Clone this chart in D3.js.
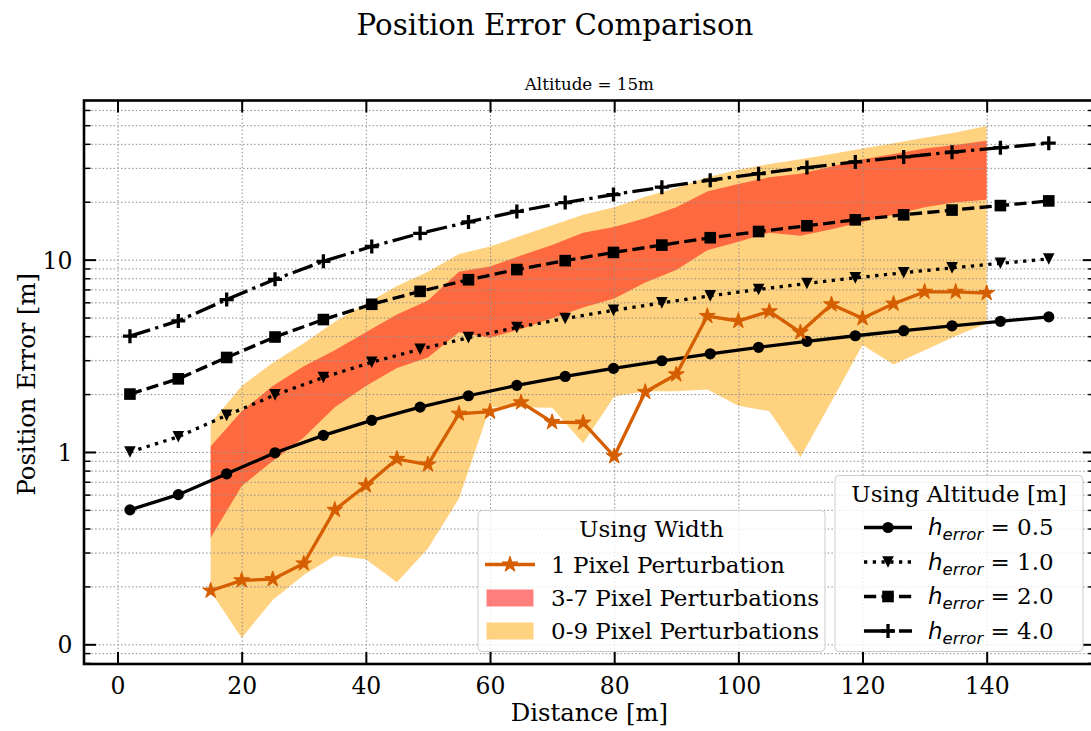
<!DOCTYPE html>
<html>
<head>
<meta charset="utf-8">
<script src="https://cdn.jsdelivr.net/npm/d3@7"></script>
<style>
  body { margin: 0; background: #fff; }
  text { font-family: "DejaVu Serif", serif; fill: #000; }
</style>
</head>
<body>
<svg id="chart" width="1091" height="731"></svg>
<script>
// ---- data ----
var distAlt = [2.0, 9.79, 17.58, 25.37, 33.16, 40.95, 48.74, 56.53, 64.32, 72.11, 79.89, 87.68, 95.47, 103.26, 111.05, 118.84, 126.63, 134.42, 142.21, 150.0];
var hErr05 = [0.5, 0.6, 0.77, 0.99, 1.22, 1.46, 1.71, 1.96, 2.22, 2.47, 2.72, 2.98, 3.24, 3.5, 3.76, 4.02, 4.27, 4.53, 4.78, 5.04];
var hErr10 = [1.0, 1.2, 1.55, 1.98, 2.44, 2.93, 3.42, 3.93, 4.44, 4.94, 5.45, 5.96, 6.48, 7.0, 7.52, 8.04, 8.55, 9.06, 9.57, 10.08];
var hErr20 = [2.0, 2.4, 3.1, 3.96, 4.88, 5.86, 6.84, 7.86, 8.88, 9.88, 10.9, 11.9, 13.0, 14.0, 15.0, 16.1, 17.1, 18.1, 19.1, 20.2];
var hErr40 = [4.0, 4.8, 6.2, 7.9, 9.8, 11.7, 13.7, 15.7, 17.8, 19.8, 21.8, 23.8, 25.9, 28.0, 30.1, 32.2, 34.2, 36.2, 38.2, 40.3];

var distPix = [15, 20, 25, 30, 35, 40, 45, 50, 55, 60, 65, 70, 75, 80, 85, 90, 95, 100, 105, 110, 115, 120, 125, 130, 135, 140];
var onePixel = [0.19, 0.215, 0.218, 0.263, 0.50, 0.67, 0.92, 0.86, 1.58, 1.62, 1.81, 1.43, 1.42, 0.95, 2.05, 2.53, 5.09, 4.80, 5.38, 4.19, 5.85, 4.96, 5.9, 6.8, 6.8, 6.7];
var band37High = [1.07, 1.63, 2.20, 2.79, 3.38, 4.19, 5.18, 6.14, 8.65, 9.22, 10.5, 11.9, 13.8, 14.8, 16.4, 18.7, 22.6, 24.7, 26.8, 28.0, 30.5, 33.3, 35.4, 37.8, 39.5, 41.5];
var band37Low = [0.358, 0.666, 0.898, 1.19, 1.71, 2.20, 2.73, 3.10, 4.19, 3.92, 4.36, 4.96, 5.64, 6.28, 7.61, 8.84, 11.2, 12.4, 13.8, 13.3, 14.4, 15.7, 17.1, 18.7, 19.9, 20.5];
var band09High = [1.41, 2.20, 2.91, 3.68, 4.75, 5.89, 7.29, 8.65, 10.7, 11.7, 13.3, 15.1, 17.1, 18.7, 21.2, 23.6, 26.8, 29.3, 31.4, 33.3, 35.4, 37.8, 40.3, 43.0, 45.8, 49.5];
var band09Low = [0.189, 0.108, 0.170, 0.229, 0.289, 0.277, 0.210, 0.315, 0.573, 1.71, 1.71, 1.70, 1.11, 1.94, 2.07, 2.07, 2.11, 1.74, 1.63, 0.94, 1.83, 3.60, 2.85, 3.38, 4.01, 4.65];

var xTicks = [0, 20, 40, 60, 80, 100, 120, 140];
var yMajor = [0.1, 1, 10];
var yTickLabels = ["0", "1", "10"];
var yMinor = [0.08, 0.09, 0.2, 0.3, 0.4, 0.5, 0.6, 0.7, 0.8, 0.9, 2, 3, 4, 5, 6, 7, 8, 9, 20, 30, 40, 50, 60];

var altLabels = ["0.5", "1.0", "2.0", "4.0"];
var widthLabels = ["1 Pixel Perturbation", "3-7 Pixel Perturbations", "0-9 Pixel Perturbations"];

// ---- layout ----
var plotL = 84, plotR = 1094.7, plotT = 100.5, plotB = 664;
var lw = 3.3;
var starColor = "#d55e00";

var svg = d3.select("#chart");

var x = d3.scaleLinear().domain([-5.4, 157.4]).range([plotL, plotR]);
var y = d3.scaleLog().domain([0.079, 67.2]).range([plotB, plotT]);

// titles
svg.append("text")
  .attr("x", 555).attr("y", 35)
  .attr("text-anchor", "middle")
  .attr("font-size", "29.3px")
  .text("Position Error Comparison");

svg.append("text")
  .attr("x", (plotL + plotR) / 2).attr("y", 90)
  .attr("text-anchor", "middle")
  .attr("font-size", "16.7px")
  .text("Altitude = 15m");

// clip for plot area
svg.append("clipPath").attr("id", "plotClip")
  .append("rect")
  .attr("x", plotL).attr("y", plotT)
  .attr("width", plotR - plotL).attr("height", plotB - plotT);

var plot = svg.append("g").attr("clip-path", "url(#plotClip)");

// bands
var area09 = d3.area()
  .x(function (d, i) { return x(distPix[i]); })
  .y0(function (d, i) { return y(band09Low[i]); })
  .y1(function (d, i) { return y(band09High[i]); });
var area37 = d3.area()
  .x(function (d, i) { return x(distPix[i]); })
  .y0(function (d, i) { return y(band37Low[i]); })
  .y1(function (d, i) { return y(band37High[i]); });

plot.append("path").datum(distPix).attr("d", area09)
  .style("fill", "orange").style("fill-opacity", 0.5);
plot.append("path").datum(distPix).attr("d", area37)
  .style("fill", "red").style("fill-opacity", 0.5);

// grid
var gridStyle = function (g) {
  g.select(".domain").remove();
  g.selectAll("text").remove();
  g.selectAll("line")
    .style("stroke", "#8c8c8c")
    .style("stroke-width", 1)
    .style("stroke-dasharray", "1.5,2.2");
};

plot.append("g")
  .attr("transform", "translate(0," + plotB + ")")
  .call(d3.axisBottom(x).tickValues(xTicks).tickSize(-(plotB - plotT)))
  .call(gridStyle);

plot.append("g")
  .attr("transform", "translate(" + plotL + ",0)")
  .call(d3.axisLeft(y).tickValues(yMajor.concat(yMinor)).tickSize(-(plotR - plotL)))
  .call(gridStyle);

// altitude lines
var altSeries = [
  { values: hErr05, dash: null, marker: "circle" },
  { values: hErr10, dash: [1 * lw, 1.65 * lw], marker: "triangle" },
  { values: hErr20, dash: [3.7 * lw, 1.6 * lw], marker: "square" },
  { values: hErr40, dash: [6.4 * lw, 1.6 * lw, 1 * lw, 1.6 * lw], marker: "plus" }
];

function drawMarker(g, type, cx, cy, color) {
  if (type === "circle") {
    g.append("circle").attr("cx", cx).attr("cy", cy).attr("r", 5.6).style("fill", color);
  } else if (type === "triangle") {
    var s = 5.8;
    g.append("path")
      .attr("d", "M" + (cx - s) + "," + (cy - s) + "L" + (cx + s) + "," + (cy - s) + "L" + cx + "," + (cy + s) + "Z")
      .style("fill", color);
  } else if (type === "square") {
    g.append("rect").attr("x", cx - 5.8).attr("y", cy - 5.8)
      .attr("width", 11.6).attr("height", 11.6).style("fill", color);
  } else if (type === "plus") {
    g.append("path")
      .attr("d", "M" + (cx - 7) + "," + cy + "H" + (cx + 7) + "M" + cx + "," + (cy - 7) + "V" + (cy + 7))
      .style("stroke", color).style("stroke-width", 3.3).style("fill", "none");
  } else if (type === "star") {
    g.append("path")
      .attr("transform", "translate(" + cx + "," + cy + ")")
      .attr("d", d3.symbol(d3.symbolStar, 78)())
      .style("fill", color).style("stroke", color).style("stroke-width", 1);
  }
}

var altLine = d3.line()
  .x(function (d, i) { return x(distAlt[i]); })
  .y(function (d) { return y(d); });

altSeries.forEach(function (s) {
  plot.append("path")
    .datum(s.values)
    .attr("d", altLine)
    .style("fill", "none")
    .style("stroke", "black")
    .style("stroke-width", lw)
    .style("stroke-dasharray", s.dash ? s.dash.join(",") : null);
  s.values.forEach(function (v, i) {
    drawMarker(plot, s.marker, x(distAlt[i]), y(v), "black");
  });
});

// 1 pixel perturbation
var pixLine = d3.line()
  .x(function (d, i) { return x(distPix[i]); })
  .y(function (d) { return y(d); });

plot.append("path")
  .datum(onePixel)
  .attr("d", pixLine)
  .style("fill", "none")
  .style("stroke", starColor)
  .style("stroke-width", lw);
onePixel.forEach(function (v, i) {
  drawMarker(plot, "star", x(distPix[i]), y(v), starColor);
});

// ---- axes (inward ticks) ----
var tickStyle = function (w) {
  return function (g) {
    g.select(".domain").remove();
    g.selectAll("line").style("stroke", "black").style("stroke-width", w);
    g.selectAll("text").style("font-family", "DejaVu Serif").style("font-size", "23.5px");
  };
};

svg.append("g")
  .attr("transform", "translate(0," + plotB + ")")
  .call(d3.axisBottom(x).tickValues(xTicks).tickSize(-12).tickPadding(13).tickFormat(d3.format("d")))
  .call(tickStyle(2));

svg.append("g")
  .attr("transform", "translate(0," + plotT + ")")
  .call(d3.axisTop(x).tickValues(xTicks).tickSize(-12).tickFormat(""))
  .call(tickStyle(2));

svg.append("g")
  .attr("transform", "translate(" + plotL + ",0)")
  .call(d3.axisLeft(y).tickValues(yMajor).tickSize(-12).tickPadding(11.5)
    .tickFormat(function (d, i) { return yTickLabels[i]; }))
  .call(tickStyle(2))
  .selectAll("text").attr("dy", "0.36em");

svg.append("g")
  .attr("transform", "translate(" + plotL + ",0)")
  .call(d3.axisLeft(y).tickValues(yMinor).tickSize(-6.5).tickFormat(""))
  .call(tickStyle(1.5));

svg.append("g")
  .attr("transform", "translate(" + plotR + ",0)")
  .call(d3.axisRight(y).tickValues(yMajor).tickSize(-12).tickFormat(""))
  .call(tickStyle(2));

svg.append("g")
  .attr("transform", "translate(" + plotR + ",0)")
  .call(d3.axisRight(y).tickValues(yMinor).tickSize(-6.5).tickFormat(""))
  .call(tickStyle(1.5));

// frame
svg.append("rect")
  .attr("x", plotL).attr("y", plotT)
  .attr("width", plotR - plotL).attr("height", plotB - plotT)
  .style("fill", "none").style("stroke", "black").style("stroke-width", 2.6);

// axis labels
svg.append("text")
  .attr("x", (plotL + plotR) / 2).attr("y", 721)
  .attr("text-anchor", "middle")
  .attr("font-size", "24.3px")
  .text("Distance [m]");

svg.append("text")
  .attr("transform", "translate(35," + ((plotT + plotB) / 2 + 2) + ") rotate(-90)")
  .attr("text-anchor", "middle")
  .attr("font-size", "24.3px")
  .text("Position Error [m]");

// ---- legend: Using Width ----
var leg1 = svg.append("g");
leg1.append("rect")
  .attr("x", 478).attr("y", 510.5).attr("width", 347).attr("height", 141)
  .attr("rx", 4)
  .style("fill", "white").style("fill-opacity", 0.8)
  .style("stroke", "#cccccc").style("stroke-width", 1);
leg1.append("text")
  .attr("x", 651.5).attr("y", 537)
  .attr("text-anchor", "middle").attr("font-size", "23px")
  .text("Using Width");

var leg1Rows = [564.5, 598, 631];
leg1.append("line")
  .attr("x1", 485).attr("x2", 535).attr("y1", leg1Rows[0]).attr("y2", leg1Rows[0])
  .style("stroke", starColor).style("stroke-width", lw);
drawMarker(leg1, "star", 510, leg1Rows[0], starColor);
leg1.append("rect")
  .attr("x", 486.5).attr("y", leg1Rows[1] - 8.5).attr("width", 47).attr("height", 17)
  .style("fill", "red").style("fill-opacity", 0.5);
leg1.append("rect")
  .attr("x", 486.5).attr("y", leg1Rows[2] - 8.5).attr("width", 47).attr("height", 17)
  .style("fill", "orange").style("fill-opacity", 0.5);
widthLabels.forEach(function (t, i) {
  leg1.append("text")
    .attr("x", 551).attr("y", leg1Rows[i] + 8)
    .attr("font-size", "23px")
    .text(t);
});

// ---- legend: Using Altitude ----
var leg2 = svg.append("g");
leg2.append("rect")
  .attr("x", 835).attr("y", 475.5).attr("width", 248).attr("height", 176)
  .attr("rx", 4)
  .style("fill", "white").style("fill-opacity", 0.8)
  .style("stroke", "#cccccc").style("stroke-width", 1);
leg2.append("text")
  .attr("x", 959).attr("y", 502)
  .attr("text-anchor", "middle").attr("font-size", "23px")
  .text("Using Altitude [m]");

var leg2Rows = [527.5, 562, 596.5, 631];
altSeries.forEach(function (s, i) {
  var ry = leg2Rows[i];
  leg2.append("line")
    .attr("x1", 864).attr("x2", 912).attr("y1", ry).attr("y2", ry)
    .style("stroke", "black").style("stroke-width", lw)
    .style("stroke-dasharray", s.dash ? s.dash.join(",") : null);
  drawMarker(leg2, s.marker, 888, ry, "black");
  var t = leg2.append("text")
    .attr("x", 928).attr("y", ry + 7.5)
    .attr("font-size", "23px");
  t.append("tspan")
    .style("font-family", "DejaVu Sans").style("font-style", "italic")
    .text("h");
  t.append("tspan")
    .attr("dy", 5)
    .style("font-family", "DejaVu Sans").style("font-style", "italic").style("font-size", "16.5px")
    .text("error");
  t.append("tspan")
    .attr("dy", -5)
    .text(" = " + altLabels[i]);
});
</script>
</body>
</html>
